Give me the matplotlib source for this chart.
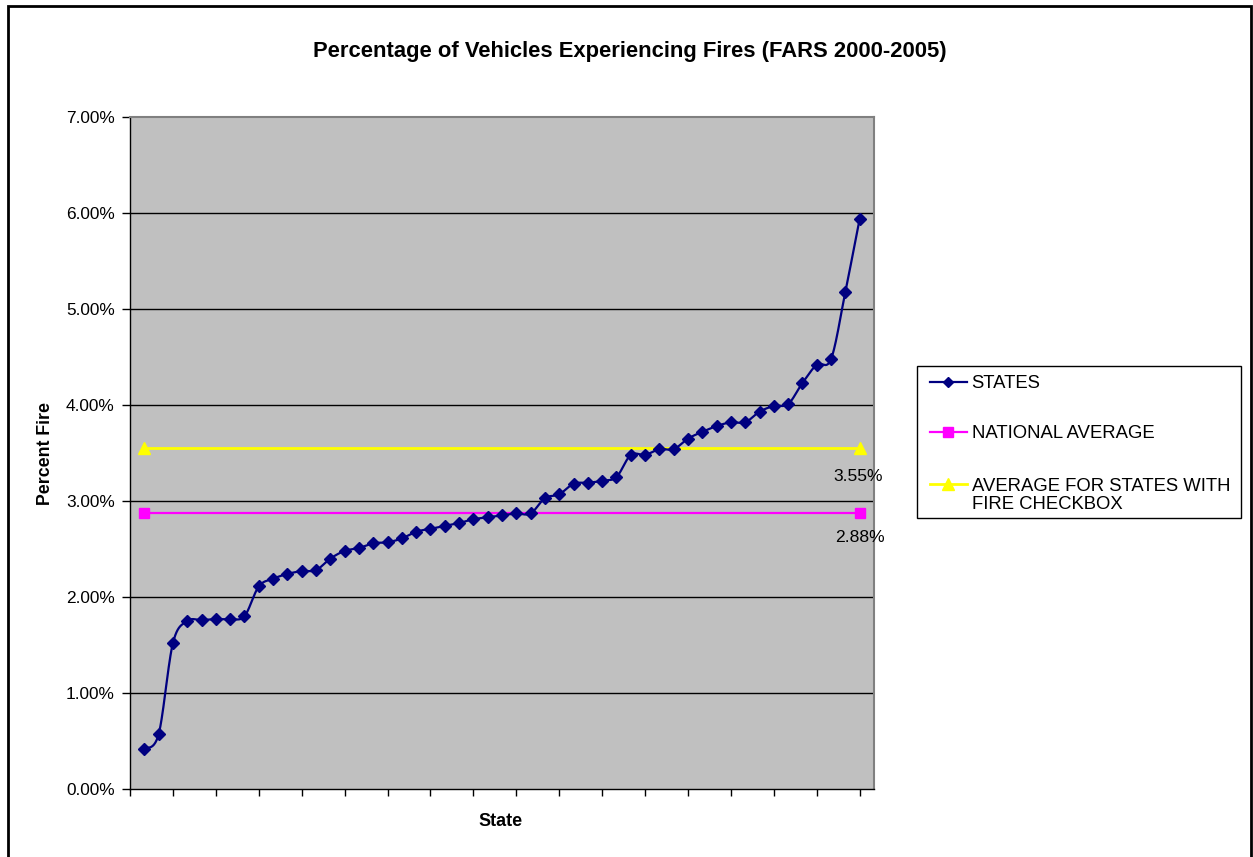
import numpy as np
import matplotlib
matplotlib.use("Agg")
import matplotlib.pyplot as plt
from matplotlib.lines import Line2D
from matplotlib.patches import Rectangle
from matplotlib.ticker import FuncFormatter, FixedLocator

plt.rcParams['font.family'] = ['Liberation Sans', 'DejaVu Sans']

# ---- data (percent) ----
state_pct = [0.42, 0.57, 1.52, 1.75, 1.76, 1.77, 1.77, 1.80, 2.11, 2.19,
             2.24, 2.27, 2.28, 2.40, 2.48, 2.51, 2.56, 2.57, 2.61, 2.68,
             2.71, 2.74, 2.77, 2.81, 2.83, 2.85, 2.87, 2.87, 3.03, 3.07,
             3.18, 3.19, 3.21, 3.25, 3.48, 3.48, 3.54, 3.54, 3.65, 3.72,
             3.78, 3.82, 3.82, 3.93, 3.99, 4.01, 4.23, 4.42, 4.48, 5.18,
             5.94]
national_avg = 2.88
checkbox_avg = 3.55
y_ticks = [0, 1, 2, 3, 4, 5, 6, 7]
series_names = ["STATES", "NATIONAL AVERAGE", ["AVERAGE FOR STATES WITH", "FIRE CHECKBOX"]]

W, H = 1253, 857
fig = plt.figure(figsize=(W / 100, H / 100), dpi=100)
fig.patch.set_facecolor('white')

def fx(px):
    return px / W

def fy(py):
    return 1 - py / H

# outer chart border
fig.add_artist(Rectangle((fx(8), fy(858)), fx(1251) - fx(8), fy(6) - fy(858),
                         transform=fig.transFigure, fill=False,
                         edgecolor='black', linewidth=2, clip_on=False))

ax = fig.add_axes([fx(130), fy(789), fx(874) - fx(130), fy(117) - fy(789)])
ax.set_facecolor('#C0C0C0')

n = len(state_pct)
xs = np.arange(1, n + 1)
ys = np.array(state_pct)

# Excel-like smoothed line (Catmull-Rom Bezier)
pts = np.column_stack([xs, ys]).astype(float)
curve = []
t = np.linspace(0, 1, 25)
for i in range(n - 1):
    p0 = pts[i - 1] if i > 0 else pts[i]
    p1 = pts[i]
    p2 = pts[i + 1]
    p3 = pts[i + 2] if i + 2 < n else pts[i + 1]
    c1 = p1 + (p2 - p0) / 6.0
    c2 = p2 - (p3 - p1) / 6.0
    seg = ((1 - t) ** 3)[:, None] * p1 + (3 * (1 - t) ** 2 * t)[:, None] * c1 \
        + (3 * (1 - t) * t ** 2)[:, None] * c2 + (t ** 3)[:, None] * p2
    curve.append(seg if i == 0 else seg[1:])
curve = np.vstack(curve)

navy = '#000080'
mag = '#FF00FF'
yel = '#FFFF00'

for yv in y_ticks[1:-1]:
    ax.axhline(yv, color='black', linewidth=1, zorder=1)

ax.plot(curve[:, 0], curve[:, 1], color=navy, linewidth=1.6, zorder=3)
ax.plot(xs, ys, linestyle='none', marker='D', markersize=6.5, color=navy, zorder=4)

avg_x = [xs[0], xs[-1]]
ax.plot(avg_x, [national_avg, national_avg], color=mag, linewidth=1.6,
        marker='s', markersize=7.5, zorder=2)
ax.plot(avg_x, [checkbox_avg, checkbox_avg], color=yel, linewidth=2,
        marker='^', markersize=8.5, zorder=2)

ax.annotate(f"{checkbox_avg:.2f}%", (avg_x[-1], checkbox_avg), xytext=(-2, -28),
            textcoords='offset pixels', ha='center', va='center',
            fontsize=12.6, annotation_clip=False, zorder=5)
ax.annotate(f"{national_avg:.2f}%", (avg_x[-1], national_avg), xytext=(0, -25),
            textcoords='offset pixels', ha='center', va='center',
            fontsize=12.6, annotation_clip=False, zorder=5)

ax.set_xlim(0, n + 1)
ax.set_ylim(0, 7)
ax.xaxis.set_major_locator(FixedLocator(np.arange(0, n + 1, 3)))
ax.set_xticklabels([])
ax.yaxis.set_major_locator(FixedLocator(y_ticks))
ax.yaxis.set_major_formatter(FuncFormatter(lambda v, p: f"{v:.2f}%"))
ax.tick_params(axis='y', direction='out', length=6, width=1, labelsize=12.4, pad=5)
ax.tick_params(axis='x', direction='out', length=5, width=1)
for s in ['left', 'bottom']:
    ax.spines[s].set_color('black')
    ax.spines[s].set_linewidth(1)
for s in ['top', 'right']:
    ax.spines[s].set_color('#808080')
    ax.spines[s].set_linewidth(1.5)

fig.text(fx(630), fy(52), "Percentage of Vehicles Experiencing Fires (FARS 2000-2005)",
         ha='center', va='center', fontsize=15.8, fontweight='bold')
fig.text(fx(45), fy(453), "Percent Fire", ha='center', va='center', rotation=90,
         fontsize=12.8, fontweight='bold')
fig.text(fx(501), fy(822), "State", ha='center', va='center',
         fontsize=13, fontweight='bold')

# legend (drawn in figure pixel layout like the original)
fig.add_artist(Rectangle((fx(917.5), fy(518)), fx(1241) - fx(917.5), fy(365.7) - fy(518),
                         transform=fig.transFigure, fill=False, edgecolor='black',
                         linewidth=1))
leg_styles = [
    dict(color=navy, linewidth=1.6, marker='D', markersize=5.5),
    dict(color=mag, linewidth=1.6, marker='s', markersize=7),
    dict(color=yel, linewidth=2, marker='^', markersize=8),
]
row_y = [381.7, 431.7, 484]
for name, style, ry in zip(series_names, leg_styles, row_y):
    fig.add_artist(Line2D([fx(930), fx(967)], [fy(ry), fy(ry)], transform=fig.transFigure,
                          color=style['color'], linewidth=style['linewidth']))
    fig.add_artist(Line2D([fx(948.5)], [fy(ry)], transform=fig.transFigure,
                          linestyle='none', color=style['color'], marker=style['marker'],
                          markersize=style['markersize']))
    lines = name if isinstance(name, list) else [name]
    for k, ln in enumerate(lines):
        fig.text(fx(971.5), fy(ry + 2 + 19 * k), ln, ha='left', va='center', fontsize=13.3)

fig.savefig('out.png', dpi=100, facecolor='white')
